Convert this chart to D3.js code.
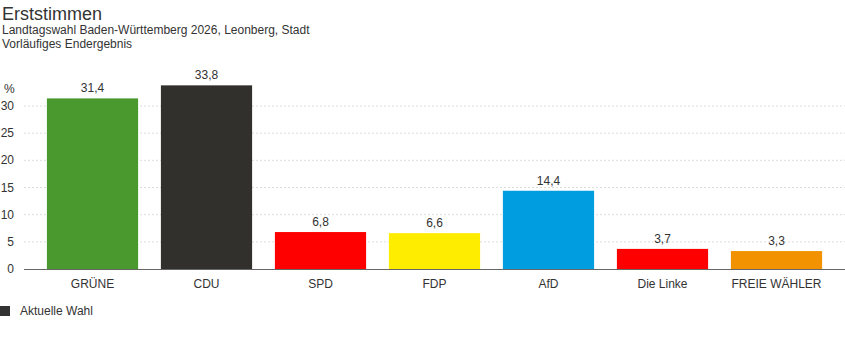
<!DOCTYPE html>
<html>
<head>
<meta charset="utf-8">
<script src="https://cdn.jsdelivr.net/npm/d3@7"></script>
<style>
  body { margin: 0; background: #fff; }
  svg { font-family: "Liberation Sans", Arial, sans-serif; }
</style>
</head>
<body>
<div id="chart"></div>
<script>
// data
const parties = ["GRÜNE", "CDU", "SPD", "FDP", "AfD", "Die Linke", "FREIE WÄHLER"];
const votes = [31.4, 33.8, 6.8, 6.6, 14.4, 3.7, 3.3];
const partyColors = ["#4a992f", "#32302d", "#ff0000", "#ffed00", "#009ee0", "#ff0000", "#f39200"];
const yTicks = [0, 5, 10, 15, 20, 25, 30];

const width = 845, height = 352;

const svg = d3.select("#chart").append("svg")
    .attr("width", width)
    .attr("height", height);

// titles
svg.append("text").attr("x", 2).attr("y", 20)
    .attr("font-size", 18).attr("fill", "#333").text("Erststimmen");
svg.append("text").attr("x", 2).attr("y", 34)
    .attr("font-size", 12).attr("fill", "#333").text("Landtagswahl Baden-Württemberg 2026, Leonberg, Stadt");
svg.append("text").attr("x", 2).attr("y", 48)
    .attr("font-size", 12).attr("fill", "#333").text("Vorläufiges Endergebnis");

// scales
const x = d3.scaleBand()
    .domain(parties)
    .range([35.5, 833.5])
    .paddingInner(0.2)
    .paddingOuter(0.1);

const y = d3.scaleLinear()
    .domain([0, 30])
    .range([269, 106]);

// gridlines
svg.append("g")
    .selectAll("line")
    .data(yTicks.filter(d => d > 0))
    .enter().append("line")
    .attr("x1", 24).attr("x2", 845)
    .attr("y1", d => y(d)).attr("y2", d => y(d))
    .attr("stroke", "#ddd")
    .attr("stroke-dasharray", "2,2");

// y labels
svg.append("g")
    .selectAll("text")
    .data(yTicks)
    .enter().append("text")
    .attr("x", 14)
    .attr("y", d => y(d) + 4)
    .attr("text-anchor", "end")
    .attr("font-size", 12)
    .attr("fill", "#333")
    .text(d => d);

svg.append("text").attr("x", 4).attr("y", 93)
    .attr("font-size", 12).attr("fill", "#333").text("%");

// bars
svg.append("g")
    .selectAll("rect")
    .data(parties)
    .enter().append("rect")
    .attr("x", d => x(d))
    .attr("width", x.bandwidth())
    .attr("y", (d, i) => y(votes[i]))
    .attr("height", (d, i) => y(0) - y(votes[i]))
    .attr("fill", (d, i) => partyColors[i]);

// value labels
svg.append("g")
    .selectAll("text")
    .data(parties)
    .enter().append("text")
    .attr("x", d => x(d) + x.bandwidth() / 2)
    .attr("y", (d, i) => y(votes[i]) - 6)
    .attr("text-anchor", "middle")
    .attr("font-size", 12)
    .attr("fill", "#333")
    .text((d, i) => d3.format(".1f")(votes[i]).replace(".", ","));

// x axis
svg.append("line")
    .attr("x1", 24).attr("x2", 845)
    .attr("y1", y(0) + 0.5).attr("y2", y(0) + 0.5)
    .attr("stroke", "#666");

svg.append("g")
    .selectAll("text")
    .data(parties)
    .enter().append("text")
    .attr("x", d => x(d) + x.bandwidth() / 2)
    .attr("y", 288)
    .attr("text-anchor", "middle")
    .attr("font-size", 12)
    .attr("fill", "#333")
    .text(d => d);

// legend
svg.append("rect").attr("x", 0).attr("y", 306)
    .attr("width", 10).attr("height", 10).attr("fill", "#333");
svg.append("text").attr("x", 20).attr("y", 315)
    .attr("font-size", 12).attr("fill", "#333").text("Aktuelle Wahl");
</script>
</body>
</html>
